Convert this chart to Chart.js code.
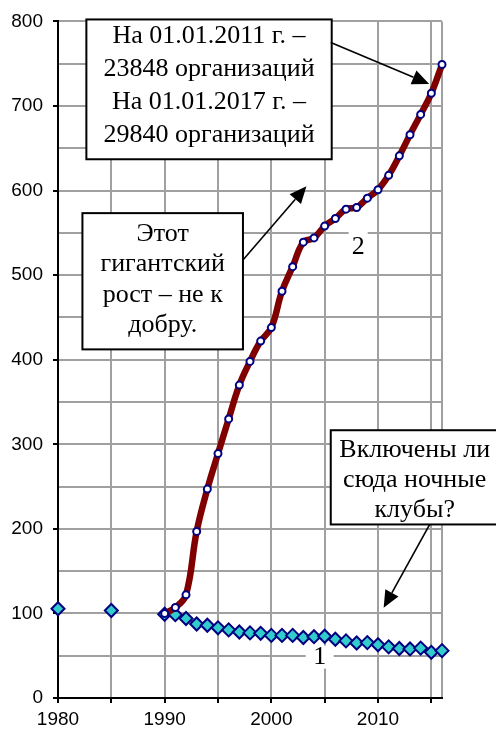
<!DOCTYPE html>
<html><head><meta charset="utf-8">
<script src="https://cdn.jsdelivr.net/npm/chart.js@4"></script>
<style>html,body{margin:0;padding:0;background:#fff;}canvas{display:block}</style>
</head><body>
<canvas id="c" width="496" height="735"></canvas>
<script>
// ---- data ----
const years1 = [1980,1985,1990,1991,1992,1993,1994,1995,1996,1997,1998,1999,2000,2001,2002,2003,2004,2005,2006,2007,2008,2009,2010,2011,2012,2013,2014,2015,2016];
const series1 = [105.5,103.5,99,98.5,94,87.5,86,83,80.5,78,77,76.5,74,74,74,71.5,72.5,73,69.5,67.5,65,65.5,63,60.5,58.5,58,59,54,56];
const years2 = [1990,1991,1992,1993,1994,1995,1996,1997,1998,1999,2000,2001,2002,2003,2004,2005,2006,2007,2008,2009,2010,2011,2012,2013,2014,2015,2016];
const series2 = [100,107,122,197,247,289,330,370,398,422,438,481,510,539,544,558,567,578,580,591,601,618,641,666,690,715,749];
const xGridYears = [1980,1985,1990,1995,2000,2005,2010,2015,2016];
const xTickLabels = [1980,1990,2000,2010];
const xTickMarks = [1980,1985,1990,1995,2000,2005,2010,2015];
const yGridValues = [0,50,100,150,200,250,300,350,400,450,500,550,600,650,700,750,800];
const yTickLabels = [0,100,200,300,400,500,600,700,800];
const seriesNames = ['1','2'];
const noteTop = ['На 01.01.2011 г. –','23848 организаций','На 01.01.2017 г. –','29840 организаций'];
const noteMid = ['Этот','гигантский','рост – не к','добру.'];
const noteRight = ['Включены ли','сюда ночные','клубы?'];

// ---- annotation layout (data coordinates + pixel styling) ----
const boxes = [
  {lines: noteTop, x1:1982.66, x2:2005.66, yTop:802.3, yBot:637.0, first:23.3, lh:33.1},
  {lines: noteMid, x1:1982.29, x2:1997.34, yTop:573.3, yBot:412.2, first:27.4, lh:30.5},
  {lines: noteRight, x1:2005.57, x2:2021.31, yTop:316.6, yBot:205.2, first:26.7, lh:30}
];
const arrows = [
  {x0:2005.57, y0:775.0, x1:2014.80, y1:726.1},
  {x0:1997.34, y0:518.0, x1:2003.29, y1:605.0},
  {x0:2014.85, y0:205.2, x1:2010.53, y1:106.7}
];
const seriesLabels = [
  {text: seriesNames[0], x:2004.53, y:48.4, w:28, h:23},
  {text: seriesNames[1], x:2008.14, y:532.7, w:19, h:32}
];
const serif = '26px "Liberation Serif", "Times New Roman", serif';

const annot = {
  id: 'annot',
  afterDatasetsDraw(chart) {
    const ctx = chart.ctx, xs = chart.scales.x, ys = chart.scales.y;
    const px = v => xs.getPixelForValue(v), py = v => ys.getPixelForValue(v);
    ctx.save();
    ctx.font = serif;
    seriesLabels.forEach(l => {
      const cx = px(l.x), cy = py(l.y);
      ctx.fillStyle = '#fff';
      ctx.fillRect(cx - l.w/2, cy - l.h/2, l.w, l.h);
      ctx.fillStyle = '#000';
      ctx.textAlign = 'center';
      ctx.textBaseline = 'middle';
      ctx.fillText(l.text, cx, cy);
    });
    boxes.forEach(b => {
      const l = px(b.x1), r = px(b.x2), t = py(b.yTop), bt = py(b.yBot);
      ctx.fillStyle = '#fff';
      ctx.fillRect(l, t, r - l, bt - t);
      ctx.strokeStyle = '#000';
      ctx.lineWidth = 2;
      ctx.strokeRect(l, t, r - l, bt - t);
      ctx.fillStyle = '#000';
      ctx.textAlign = 'center';
      ctx.textBaseline = 'alphabetic';
      b.lines.forEach((s, i) => ctx.fillText(s, (l + r)/2, t + b.first + i*b.lh));
    });
    arrows.forEach(a => {
      const x0 = px(a.x0), y0 = py(a.y0), x1 = px(a.x1), y1 = py(a.y1);
      const ang = Math.atan2(y1 - y0, x1 - x0);
      const L = 17, W = 7.5;
      const bx = x1 - L*Math.cos(ang), by = y1 - L*Math.sin(ang);
      ctx.strokeStyle = '#000';
      ctx.lineWidth = 1.6;
      ctx.beginPath(); ctx.moveTo(x0, y0); ctx.lineTo(bx, by); ctx.stroke();
      ctx.fillStyle = '#000';
      ctx.beginPath();
      ctx.moveTo(x1, y1);
      ctx.lineTo(bx + W*Math.sin(ang), by - W*Math.cos(ang));
      ctx.lineTo(bx - W*Math.sin(ang), by + W*Math.cos(ang));
      ctx.closePath(); ctx.fill();
    });
    ctx.restore();
  }
};

const tickFont = {family: '"Liberation Sans", Arial, sans-serif', size: 19};

new Chart(document.getElementById('c'), {
  type: 'line',
  data: {
    datasets: [
      {
        label: seriesNames[1],
        data: years2.map((x, i) => ({x, y: series2[i]})),
        borderColor: '#800000', borderWidth: 6.5, tension: 0.4,
        pointStyle: 'circle', pointRadius: 3.5, pointBackgroundColor: '#fff',
        pointBorderColor: '#000080', pointBorderWidth: 2,
        order: 0, clip: false
      },
      {
        label: seriesNames[0],
        data: years1.map((x, i) => ({x, y: series1[i]})),
        borderColor: '#ff0000', borderWidth: 1, tension: 0,
        segment: {borderColor: c => c.p0.parsed.x < 1990 ? 'rgba(0,0,0,0)' : '#ff0000'},
        pointStyle: 'rectRot', pointRadius: 6.5, pointBackgroundColor: '#33cccc',
        pointBorderColor: '#000080', pointBorderWidth: 2,
        order: 1, clip: false
      }
    ]
  },
  options: {
    responsive: false, animation: false, devicePixelRatio: 1,
    layout: {padding: {left: 0, right: 54, top: 16, bottom: 0}},
    plugins: {legend: {display: false}, tooltip: {enabled: false}},
    scales: {
      x: {
        type: 'linear', min: 1980, max: 2016,
        afterBuildTicks: s => { s.ticks = xGridYears.map(v => ({value: v})); },
        afterFit: s => { s.height = 37; },
        ticks: {autoSkip: false, maxRotation: 0, padding: 5, color: '#000', font: tickFont,
                callback: v => xTickLabels.includes(v) ? String(v) : ''},
        grid: {color: '#a0a0a0', lineWidth: 2, tickLength: 5, tickWidth: 2,
               tickColor: c => (c.tick && xTickMarks.includes(c.tick.value)) ? '#000' : 'rgba(0,0,0,0)'},
        border: {color: '#000', width: 2}
      },
      y: {
        min: 0, max: 800,
        afterBuildTicks: s => { s.ticks = yGridValues.map(v => ({value: v})); },
        afterFit: s => { s.width = 58; },
        ticks: {autoSkip: false, padding: 10, color: '#000', font: tickFont,
                callback: v => yTickLabels.includes(v) ? String(v) : ''},
        grid: {color: '#a0a0a0', lineWidth: 2, tickLength: 5, tickWidth: 2,
               tickColor: c => (c.tick && yTickLabels.includes(c.tick.value)) ? '#000' : 'rgba(0,0,0,0)'},
        border: {color: '#000', width: 2}
      }
    }
  },
  plugins: [annot]
});
</script>
</body></html>
